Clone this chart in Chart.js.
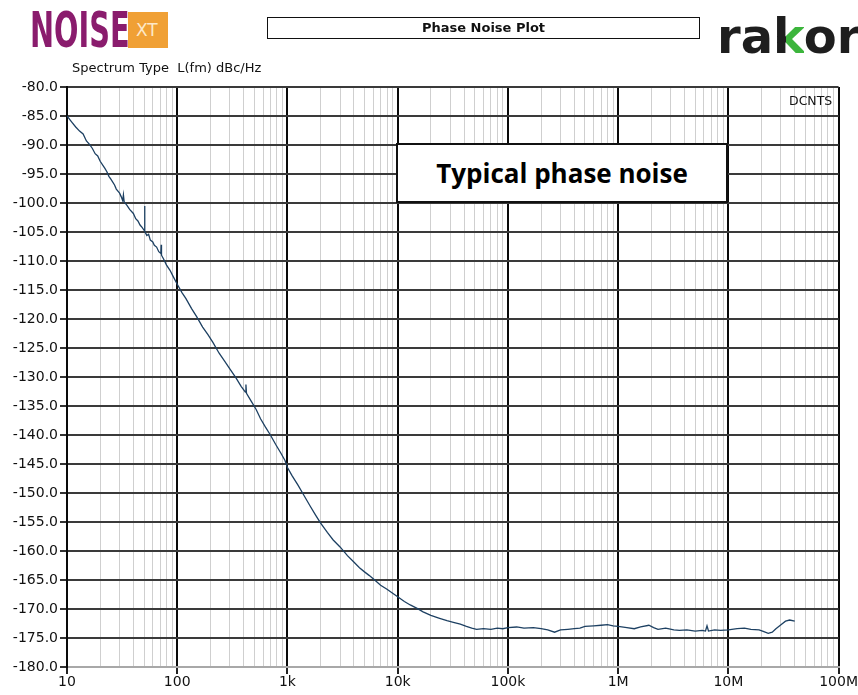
<!DOCTYPE html>
<html>
<head>
<meta charset="utf-8">
<script src="https://cdn.jsdelivr.net/npm/chart.js@4"></script>
<style>
  body { margin: 0; background: #fff; width: 858px; height: 695px; overflow: hidden; position: relative; font-family: "DejaVu Sans", sans-serif; }
  #wrap { position: absolute; left: 0; top: 0; width: 858px; height: 695px; }
  .abs { position: absolute; white-space: nowrap; }
  #noise { left: 30px; top: 5px; font: bold 50px "DejaVu Sans", sans-serif; line-height: 50px; color: #8a1c6d; transform: scaleX(0.575); transform-origin: left top; }
  #xt { left: 128px; top: 12px; width: 40px; height: 36px; background: #f0a035; color: #fde8c8; font: 17px "DejaVu Sans", sans-serif; line-height: 36px; padding-left: 8px; box-sizing: border-box; }
  #title { left: 267px; top: 17px; width: 433px; height: 22px; border: 1.5px solid #111; box-sizing: border-box; text-align: center; font: bold 13px "DejaVu Sans", sans-serif; line-height: 19px; color: #111; }
  #rakor { left: 717px; top: 12px; font: bold 48px "DejaVu Sans", sans-serif; line-height: 48px; color: #1e1e1e; }
  #rakor .k { background: linear-gradient(90deg, #1e1e1e 0 42%, #3cb53c 42% 100%); -webkit-background-clip: text; background-clip: text; color: transparent; }
  #spec { left: 72px; top: 60px; font: 13px "DejaVu Sans", sans-serif; color: #111; }
  #dcnts { left: 789px; top: 93px; font: 12.5px "DejaVu Sans", sans-serif; color: #111; }
  #note { left: 396px; top: 143px; width: 332px; height: 60px; border: 2px solid #111; background: #fff; box-sizing: border-box; text-align: center; font: bold 26px "Open Sans", sans-serif; line-height: 56px; color: #000; }
</style>
</head>
<body>
<div id="wrap"><canvas id="pn"></canvas></div>
<div class="abs" id="noise">NOISE</div>
<div class="abs" id="xt">XT</div>
<div class="abs" id="title">Phase Noise Plot</div>
<div class="abs" id="rakor">ra<span class="k">k</span>or</div>
<div class="abs" id="spec">Spectrum Type&nbsp; L(fm) dBc/Hz</div>
<div class="abs" id="dcnts">DCNTS</div>
<div class="abs" id="note">Typical phase noise</div>
<script>
const freqHz = [
  10, 11, 12, 13, 14, 15, 16, 17, 18, 19,
  20, 22, 23, 24, 25, 27, 28, 30, 31, 32,
  32.5, 33, 35, 37, 40, 42, 44, 46, 48, 50,
  50.5, 51, 53, 55, 57, 60, 62, 65, 68, 71,
  71.5, 72, 75, 80, 86, 92, 100, 110, 120, 135,
  150, 170, 190, 210, 240, 270, 300, 340, 380, 415,
  420, 425, 470, 520, 570, 630, 700, 780, 870, 950,
  1000, 1100, 1250, 1400, 1600, 1800, 2000, 2300, 2600, 3000,
  3500, 4000, 4500, 5000, 5500, 6000, 7000, 8000, 9000, 10000,
  11500, 13000, 15000, 17000, 20000, 24000, 28000, 32000, 37000, 42000,
  47000, 52000, 60000, 70000, 80000, 90000, 100000, 120000, 140000, 170000,
  200000, 230000, 265000, 300000, 350000, 400000, 450000, 500000, 600000, 700000,
  800000, 900000, 1000000, 1200000, 1400000, 1600000, 1900000, 2100000, 2300000, 2700000,
  3200000, 3600000, 4200000, 5000000, 5800000, 6200000, 6400000, 6600000, 7500000, 8500000,
  10000000, 12000000, 14000000, 16000000, 19000000, 21000000, 23000000, 25000000, 27000000, 30000000,
  33000000, 36000000, 40000000
];
const noiseDb = [
  -85.0, -86.0, -86.9, -87.6, -88.1, -89.3, -89.9, -90.6, -91.5, -91.9,
  -92.8, -94.0, -94.6, -95.4, -95.9, -96.9, -97.6, -98.3, -98.9, -99.6,
  -98.6, -99.8, -100.4, -101.1, -101.8, -102.7, -103.1, -103.8, -104.2, -104.7,
  -100.5, -104.9, -105.6, -105.4, -106.4, -106.7, -107.3, -107.6, -108.4, -108.7,
  -107.2, -109.0, -109.6, -110.7, -111.6, -112.7, -114.0, -115.4, -116.5, -118.2,
  -119.6, -121.4, -122.7, -124.0, -125.9, -127.3, -128.6, -130.1, -131.6, -132.6,
  -131.3, -132.8, -134.2, -135.6, -137.2, -138.6, -140.0, -141.6, -143.1, -144.4,
  -145.6, -147.0, -148.7, -150.3, -152.2, -153.8, -155.2, -156.8, -158.1, -159.3,
  -160.8, -161.9, -162.9, -163.6, -164.2, -164.8, -165.9, -166.6, -167.3, -167.9,
  -168.7, -169.3, -169.9, -170.5, -171.1, -171.6, -172.0, -172.3, -172.6, -173.0,
  -173.3, -173.5, -173.4, -173.5, -173.3, -173.4, -173.2, -173.1, -173.3, -173.2,
  -173.4, -173.6, -174.0, -173.6, -173.5, -173.4, -173.3, -173.0, -172.9, -172.8,
  -172.7, -172.9, -173.0, -173.2, -173.4, -173.1, -172.8, -173.2, -173.5, -173.3,
  -173.6, -173.7, -173.6, -173.8, -173.7, -173.8, -172.9, -173.8, -173.6, -173.7,
  -173.6, -173.4, -173.3, -173.5, -173.6, -173.9, -174.2, -174.0, -173.4, -172.7,
  -172.1, -171.9, -172.1
];

// axis decades and their labels
const xDecades = [10, 100, 1000, 10000, 100000, 1000000, 10000000, 100000000];
const xTickLabels = ['10', '100', '1k', '10k', '100k', '1M', '10M', '100M'];
const yMin = -180, yMax = -80, yStep = 5;

// minor grid positions: 1..9 times each decade
const xGridValues = [];
xDecades.forEach(function(d, i) {
  if (i === xDecades.length - 1) { xGridValues.push(d); return; }
  for (let m = 1; m <= 9; m++) xGridValues.push(d * m);
});

function isDecade(v) {
  return xDecades.some(function(d) { return Math.abs(v - d) < d * 1e-6; });
}

Chart.defaults.font.family = '"DejaVu Sans", sans-serif';
Chart.defaults.font.size = 14;
Chart.defaults.color = '#111';

const ctx = document.getElementById('pn').getContext('2d');
const pnChart = new Chart(ctx, {
  type: 'line',
  data: {
    datasets: [{
      data: freqHz.map(function(f, i) { return { x: f, y: noiseDb[i] }; }),
      borderColor: '#1d4062',
      borderWidth: 1.3,
      pointRadius: 0,
      tension: 0,
      fill: false
    }]
  },
  options: {
    responsive: true,
    maintainAspectRatio: false,
    animation: false,
    layout: { padding: { top: 87, right: 18, left: 0, bottom: 0 } },
    plugins: { legend: { display: false }, tooltip: { enabled: false } },
    scales: {
      x: {
        type: 'logarithmic',
        min: 10,
        max: 100000000,
        afterBuildTicks: function(scale) {
          scale.ticks = xGridValues.map(function(v) { return { value: v }; });
        },
        afterFit: function(scale) { scale.height = 28; },
        ticks: {
          autoSkip: false,
          maxRotation: 0,
          padding: 0,
          font: { size: 14 },
          callback: function(v) {
            const i = xDecades.findIndex(function(d) { return Math.abs(v - d) < d * 1e-6; });
            return i >= 0 ? xTickLabels[i] : '';
          }
        },
        grid: {
          color: function(c) { return c.tick && isDecade(c.tick.value) ? '#0a0a0a' : '#cfcfcf'; },
          lineWidth: function(c) { return c.tick && isDecade(c.tick.value) ? 2 : 1; },
          tickColor: function(c) { return c.tick && isDecade(c.tick.value) ? '#222' : 'rgba(0,0,0,0)'; },
          tickLength: 7
        },
        border: { display: true, color: '#a8a8a8', width: 2 }
      },
      y: {
        min: yMin,
        max: yMax,
        afterFit: function(scale) { scale.width = 67; },
        ticks: {
          stepSize: yStep,
          padding: 2,
          font: { size: 14 },
          callback: function(v) { return v.toFixed(1); }
        },
        grid: {
          color: function(c) { return c.tick && c.tick.value === yMin ? '#a8a8a8' : '#3a3a3a'; },
          lineWidth: 2,
          tickColor: '#333',
          tickLength: 7
        },
        border: { display: true, color: '#0a0a0a', width: 2 }
      }
    }
  }
});
</script>
</body>
</html>
